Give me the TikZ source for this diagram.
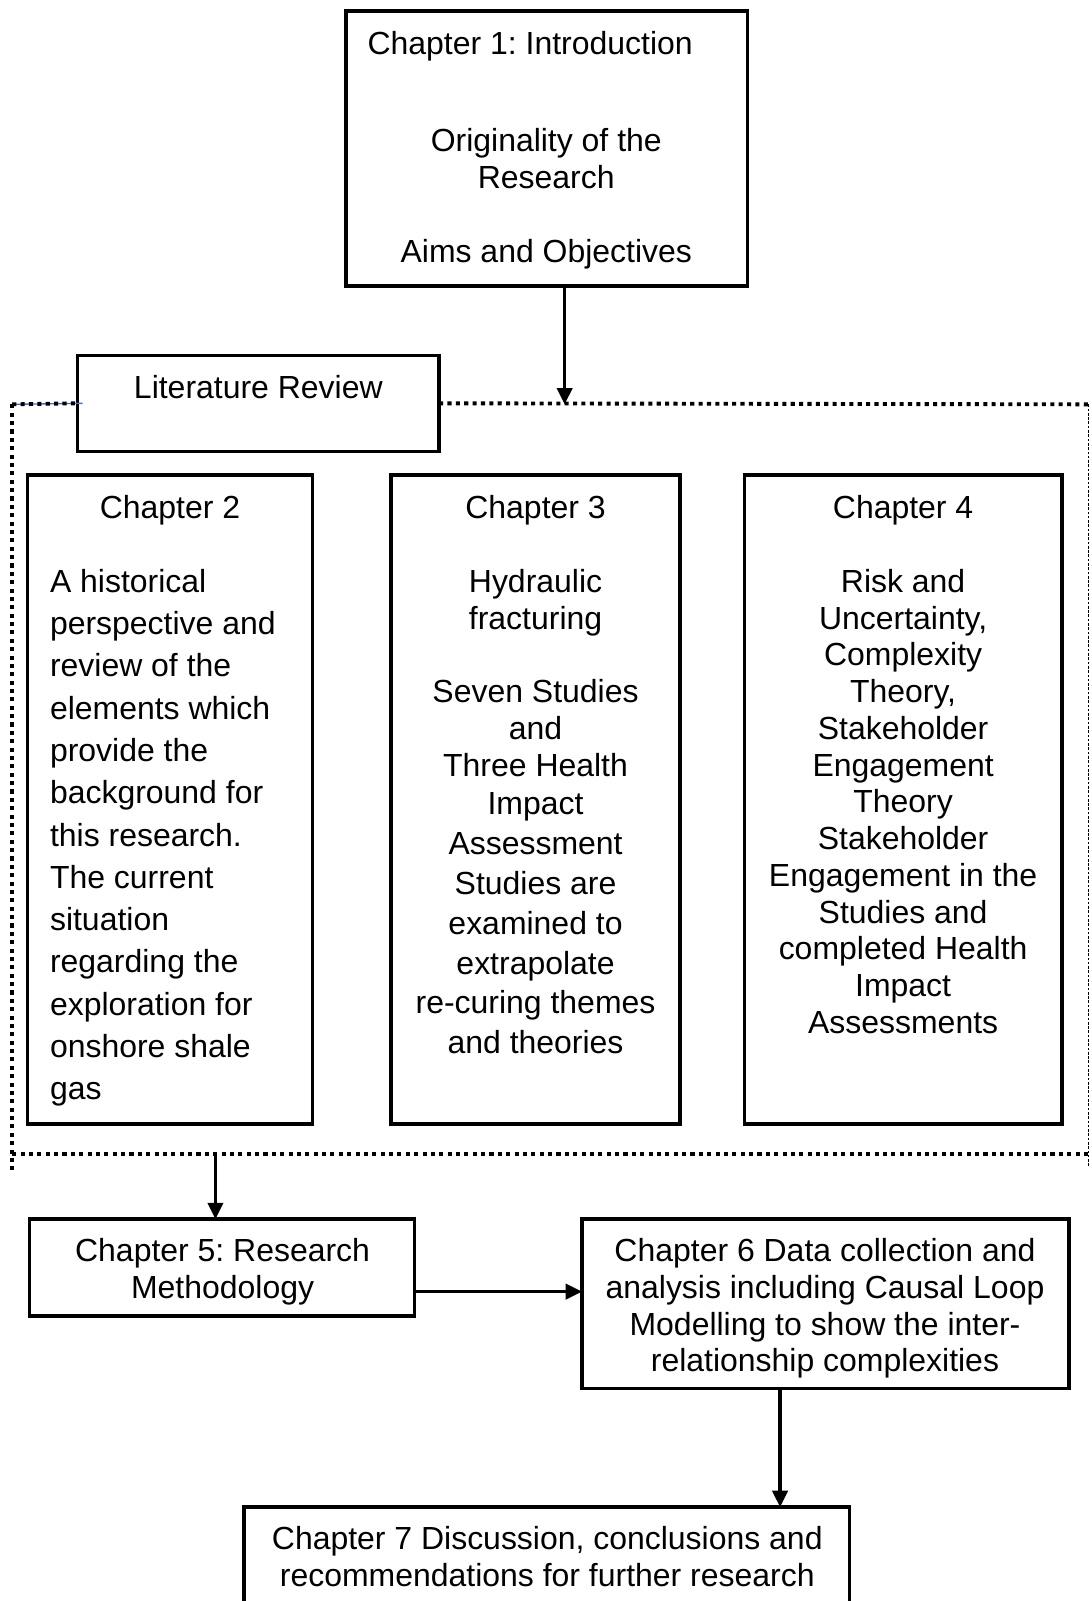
\documentclass[tikz,border=0pt]{standalone}
\usepackage{fontspec}
\setmainfont{Liberation Sans}
\usetikzlibrary{arrows.meta}
\frenchspacing
\begin{document}
\begin{tikzpicture}[x=1pt,y=-1pt]
\tikzset{
  box/.style={draw=black, line width=3.4pt, inner sep=0pt, outer sep=0pt},
  txt/.style={inner sep=0pt, outer sep=0pt, font=\fontsize{31.3}{36}\selectfont, align=center},
  arr/.style={line width=3.2pt, -{Triangle[width=15pt,length=16pt]}},
  dots/.style={line width=3.8pt, dash pattern=on 4pt off 4.2pt},
  finedash/.style={line width=1.4pt, dash pattern=on 2.6pt off 1.6pt},
  blueline/.style={line width=1.4pt, draw={rgb,255:red,68;green,114;blue,196}},
}
\useasboundingbox (0,0) rectangle (1069,1568);

% chapter boxes
\node[box, minimum width=393pt, minimum height=269pt] (ch1) at (535.5,145.5) {};
\node[box, minimum width=354pt, minimum height=94pt] (lit) at (253,395) {};
\node[box, minimum width=279pt, minimum height=636pt] (ch2) at (166.5,783) {};
\node[box, minimum width=283pt, minimum height=636pt] (ch3) at (524.5,783) {};
\node[box, minimum width=311pt, minimum height=636pt] (ch4) at (884.5,783) {};
\node[box, minimum width=377pt, minimum height=95pt] (ch5) at (217.5,1241.5) {};
\node[box, minimum width=477pt, minimum height=166pt] (ch6) at (808.5,1277) {};
\node[box, minimum width=593pt, minimum height=108pt] (ch7) at (535.5,1530) {};

% texts
\node[txt, anchor=base west] (t1a) at (360,53) {Chapter 1: Introduction};
\node[txt, anchor=north] (t1b) at (535,125.5) {Originality of the\\Research};
\node[txt, anchor=base] (t1c) at (535,257) {Aims and Objectives};
\node[txt, anchor=base] (tlit) at (253,390) {Literature Review};

\node[txt, anchor=base] (t2a) at (166.5,508) {Chapter 2};
\node[txt, anchor=north west, align=left, font=\fontsize{31.3}{41.4}\selectfont] (t2b) at (49,557.5)
  {A historical\\perspective and\\review of the\\elements which\\provide the\\background for\\this research.\\The current\\situation\\regarding the\\exploration for\\onshore shale\\gas};

\node[txt, anchor=base] (t3a) at (524.5,508) {Chapter 3};
\node[txt, anchor=north, font=\fontsize{31.3}{35.5}\selectfont] (t3b) at (524.5,558) {Hydraulic\\fracturing};
\node[txt, anchor=north] (t3c) at (524.5,665.5) {Seven Studies\\and\\Three Health};
\node[txt, anchor=north, font=\fontsize{31.3}{39}\selectfont] (t3d) at (524.5,776.5)
  {Impact\\Assessment\\Studies are\\examined to\\extrapolate\\re-curing themes\\and theories};

\node[txt, anchor=base] (t4a) at (884.5,508) {Chapter 4};
\node[txt, anchor=north] (t4b) at (884.5,557.5)
  {Risk and\\Uncertainty,\\Complexity\\Theory,\\Stakeholder\\Engagement\\Theory\\Stakeholder\\Engagement in the\\Studies and\\completed Health\\Impact\\Assessments};

\node[txt, anchor=north] (t5) at (218,1213) {Chapter 5: Research\\Methodology};
\node[txt, anchor=north] (t6) at (808,1213)
  {Chapter 6 Data collection and\\analysis including Causal Loop\\Modelling to show the inter-\\relationship complexities};
\node[txt, anchor=north] (t7) at (536,1495)
  {Chapter 7 Discussion, conclusions and\\recommendations for further research};

% dotted frame round the literature review chapters
\coordinate (dtl) at (12,396);
\coordinate (dtr) at (1066,396);
\coordinate (dbl) at (12,1147);
\coordinate (dbm) at (12,1130);
\coordinate (dbr) at (1066,1130);
\coordinate (drend) at (1066,1143);
\draw[blueline] (dtl) -- ([xshift=5pt]lit.west);
\draw[dots] (dtl) -- (lit.west);
\draw[dots] (lit.east) -- (dtr);
\draw[dots] (dtl) -- (dbl);
\draw[dots] (dbm) -- (dbr);
\draw[finedash] (dtr) -- (drend);

% connectors
\coordinate (litin) at (553,396);
\coordinate (litout) at (211,1130);
\draw[arr] (ch1.south -| litin) -- (litin);
\draw[arr] (litout) -- (litout |- ch5.north);
\path (ch5.east) ++(0,23.5) coordinate (m56);
\draw[arr] (m56) -- (m56 -| ch6.west);
\path (ch6.south) ++(-44.5,0) coordinate (m67);
\draw[arr] (m67) -- (m67 |- ch7.north);
\end{tikzpicture}
\end{document}
